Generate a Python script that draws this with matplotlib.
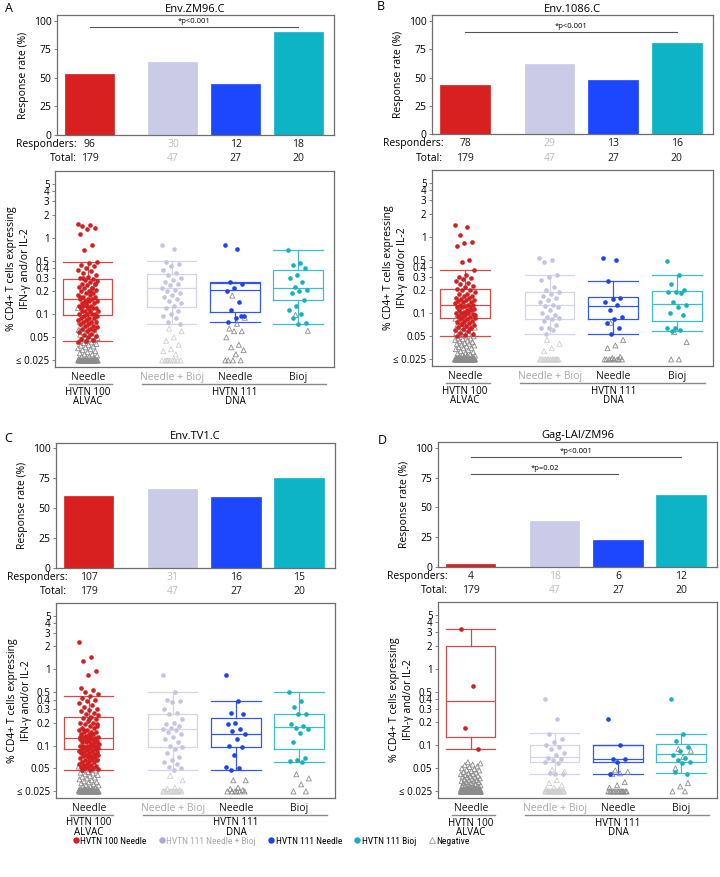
import numpy as np
import matplotlib
matplotlib.use("Agg")
import matplotlib.pyplot as plt
from matplotlib import font_manager
from matplotlib.lines import Line2D
from matplotlib.ticker import NullLocator

plt.rcParams['font.family'] = ['Open Sans', 'DejaVu Sans']

# ---------------- data ----------------
group_names = ['HVTN 100 Needle', 'HVTN 111 Needle + Bioj', 'HVTN 111 Needle', 'HVTN 111 Bioj']
x_labels = ['Needle', 'Needle + Bioj', 'Needle', 'Bioj']
panel_titles = ['Env.ZM96.C', 'Env.1086.C', 'Env.TV1.C', 'Gag-LAI/ZM96']
panel_letters = ['A', 'B', 'C', 'D']

zm96_responders = [96, 30, 12, 18]
zm96_totals = [179, 47, 27, 20]
e1086_responders = [78, 29, 13, 16]
e1086_totals = [179, 47, 27, 20]
tv1_responders = [107, 31, 16, 15]
tv1_totals = [179, 47, 27, 20]
gag_responders = [4, 18, 6, 12]
gag_totals = [179, 47, 27, 20]

# significance brackets: (group from, group to, height %, label)
zm96_sig = [(0, 3, 94.7, '*p<0.001')]
e1086_sig = [(0, 3, 90.3, '*p<0.001')]
tv1_sig = []
gag_sig = [(0, 3, 92, '*p<0.001'), (0, 2, 78, '*p=0.02')]

# box statistics: (q1, median, q3, whisker low, whisker high)
zm96_box = [(0.097, 0.16, 0.285, 0.045, 0.48), (0.125, 0.22, 0.34, 0.075, 0.49),
            (0.108, 0.21, 0.255, 0.08, 0.26), (0.155, 0.22, 0.38, 0.075, 0.68)]
e1086_box = [(0.088, 0.13, 0.21, 0.051, 0.37), (0.084, 0.128, 0.19, 0.053, 0.32),
             (0.083, 0.125, 0.165, 0.053, 0.26), (0.08, 0.133, 0.195, 0.058, 0.32)]
tv1_box = [(0.09, 0.125, 0.24, 0.048, 0.45), (0.095, 0.165, 0.26, 0.048, 0.51),
           (0.095, 0.14, 0.23, 0.048, 0.38), (0.09, 0.175, 0.26, 0.061, 0.51)]
gag_box = [(0.13, 0.38, 1.95, 0.09, 3.3), (0.06, 0.07, 0.1, 0.042, 0.145),
           (0.06, 0.066, 0.1, 0.042, 0.1), (0.06, 0.077, 0.105, 0.043, 0.14)]

# responder values (% CD4+ T cells)
zm96_pos_100 = [1.5, 1.45, 1.4, 1.35, 1.3, 1.1, 0.8, 0.68,
                0.48, 0.46, 0.44, 0.42, 0.40, 0.38, 0.37, 0.35, 0.33, 0.31, 0.30, 0.29,
                0.28, 0.27, 0.26, 0.25, 0.25, 0.24, 0.23, 0.22, 0.22, 0.21,
                0.20, 0.20, 0.19, 0.19, 0.18, 0.18, 0.17, 0.17, 0.16, 0.16,
                0.16, 0.15, 0.15, 0.15, 0.14, 0.14, 0.14, 0.13, 0.13, 0.13,
                0.12, 0.12, 0.12, 0.12, 0.11, 0.11, 0.11, 0.11, 0.10, 0.10,
                0.10, 0.10, 0.095, 0.095, 0.09, 0.09, 0.09, 0.085, 0.085, 0.08,
                0.08, 0.08, 0.075, 0.075, 0.07, 0.07, 0.068, 0.065, 0.065, 0.062,
                0.06, 0.058, 0.056, 0.054, 0.052, 0.05, 0.048, 0.046, 0.045, 0.044,
                0.2, 0.3, 0.25, 0.13, 0.17, 0.22]
zm96_pos_111nb = [0.8, 0.7, 0.48, 0.45, 0.42, 0.38, 0.35, 0.33, 0.3, 0.28, 0.26, 0.25, 0.24, 0.22,
                  0.21, 0.2, 0.19, 0.18, 0.17, 0.16, 0.15, 0.14, 0.13, 0.12, 0.11, 0.1, 0.095,
                  0.09, 0.08, 0.075]
zm96_pos_111n = [0.8, 0.7, 0.26, 0.25, 0.22, 0.2, 0.145, 0.115, 0.095, 0.09, 0.08, 0.095]
zm96_pos_111b = [0.68, 0.46, 0.44, 0.4, 0.33, 0.3, 0.26, 0.23, 0.21, 0.2, 0.19, 0.155, 0.13,
                 0.115, 0.1, 0.09, 0.078, 0.075]

e1086_pos_100 = [1.4, 1.35, 1.05, 0.85, 0.82, 0.75, 0.5, 0.47,
                 0.37, 0.32, 0.3, 0.29, 0.28, 0.26, 0.25, 0.24, 0.23, 0.22,
                 0.21, 0.2, 0.2, 0.19, 0.18, 0.18, 0.17, 0.17, 0.16, 0.16,
                 0.155, 0.15, 0.15, 0.145, 0.14, 0.14, 0.135, 0.13, 0.13, 0.13,
                 0.125, 0.12, 0.12, 0.12, 0.115, 0.11, 0.11, 0.11, 0.105, 0.1,
                 0.1, 0.1, 0.098, 0.095, 0.092, 0.09, 0.09, 0.088, 0.085, 0.083,
                 0.08, 0.08, 0.078, 0.075, 0.073, 0.07, 0.068, 0.066, 0.064, 0.062,
                 0.06, 0.058, 0.056, 0.054, 0.052, 0.051, 0.065, 0.072, 0.095, 0.105]
e1086_pos_111nb = [0.52, 0.5, 0.47, 0.32, 0.3, 0.27, 0.22, 0.2, 0.19, 0.18, 0.17, 0.16, 0.15,
                   0.14, 0.13, 0.125, 0.12, 0.11, 0.1, 0.095, 0.09, 0.088, 0.085, 0.08, 0.07,
                   0.065, 0.065, 0.06, 0.053]
e1086_pos_111n = [0.52, 0.5, 0.26, 0.16, 0.155, 0.14, 0.13, 0.11, 0.09, 0.085, 0.075, 0.065, 0.053]
e1086_pos_111b = [0.48, 0.32, 0.24, 0.2, 0.19, 0.19, 0.185, 0.14, 0.13, 0.12, 0.1, 0.095, 0.065,
                  0.065, 0.06, 0.058]

tv1_pos_100 = [2.3, 1.45, 1.3, 0.95, 0.85, 0.56, 0.54, 0.5, 0.47, 0.45,
               0.42, 0.4, 0.38, 0.36, 0.34, 0.32, 0.3, 0.29, 0.28, 0.27,
               0.26, 0.25, 0.24, 0.23, 0.22, 0.21, 0.2, 0.2, 0.19, 0.18,
               0.18, 0.17, 0.17, 0.16, 0.16, 0.15, 0.15, 0.15, 0.14, 0.14,
               0.14, 0.135, 0.13, 0.13, 0.13, 0.125, 0.125, 0.12, 0.12, 0.12,
               0.115, 0.115, 0.11, 0.11, 0.11, 0.105, 0.105, 0.1, 0.1, 0.1,
               0.1, 0.098, 0.096, 0.094, 0.092, 0.09, 0.09, 0.088, 0.086, 0.085,
               0.083, 0.082, 0.08, 0.08, 0.078, 0.076, 0.075, 0.073, 0.072, 0.07,
               0.07, 0.068, 0.066, 0.065, 0.064, 0.062, 0.061, 0.06, 0.058, 0.057,
               0.056, 0.055, 0.054, 0.053, 0.052, 0.051, 0.05, 0.049, 0.048, 0.048,
               0.11, 0.12, 0.13, 0.14, 0.16, 0.19, 0.22]
tv1_pos_111nb = [0.85, 0.5, 0.4, 0.38, 0.37, 0.3, 0.27, 0.26, 0.22, 0.2, 0.19, 0.18, 0.17, 0.165,
                 0.16, 0.15, 0.14, 0.13, 0.12, 0.11, 0.1, 0.095, 0.09, 0.08, 0.07, 0.065, 0.06,
                 0.057, 0.053, 0.05, 0.048]
tv1_pos_111n = [0.85, 0.38, 0.27, 0.26, 0.2, 0.19, 0.165, 0.155, 0.14, 0.12, 0.1, 0.095, 0.075,
                0.052, 0.05, 0.048]
tv1_pos_111b = [0.5, 0.38, 0.32, 0.26, 0.26, 0.19, 0.18, 0.17, 0.165, 0.145, 0.11, 0.068, 0.065,
                0.062, 0.06]

gag_pos_100 = [3.3, 0.6, 0.17, 0.09]
gag_pos_111nb = [0.4, 0.22, 0.14, 0.12, 0.11, 0.1, 0.095, 0.09, 0.08, 0.075, 0.068, 0.066, 0.065,
                 0.06, 0.058, 0.043, 0.042, 0.042]
gag_pos_111n = [0.22, 0.1, 0.066, 0.066, 0.06, 0.042]
gag_pos_111b = [0.4, 0.14, 0.115, 0.095, 0.085, 0.075, 0.068, 0.065, 0.06, 0.058, 0.045, 0.042]

# negative (non-responder) values, many sit at the 0.025 floor
zm96_neg_100 = [0.025] * 35 + [0.12, 0.11, 0.1, 0.09, 0.085, 0.08, 0.078, 0.075, 0.072, 0.07,
                               0.068, 0.066, 0.064, 0.062, 0.06, 0.058, 0.056, 0.055, 0.054, 0.052,
                               0.05, 0.049, 0.048, 0.047, 0.046, 0.045, 0.044, 0.043, 0.042, 0.041,
                               0.04, 0.039, 0.038, 0.037, 0.036, 0.035, 0.034, 0.033, 0.032, 0.031,
                               0.03, 0.03, 0.029, 0.028, 0.028, 0.027, 0.027, 0.026]
zm96_neg_111nb = [0.065, 0.06, 0.05, 0.045, 0.04, 0.035, 0.033, 0.03] + [0.025] * 9
zm96_neg_111n = [0.175, 0.09, 0.075, 0.065, 0.06, 0.06, 0.05, 0.04, 0.037, 0.034, 0.03,
                 0.025, 0.025, 0.025, 0.025]
zm96_neg_111b = [0.098, 0.061]

e1086_neg_100 = [0.025] * 45 + [0.1, 0.095, 0.09, 0.085, 0.08, 0.078, 0.075, 0.072, 0.07, 0.068,
                                0.066, 0.065, 0.062, 0.06, 0.058, 0.057, 0.055, 0.054, 0.052, 0.05,
                                0.05, 0.048, 0.047, 0.046, 0.045, 0.044, 0.043, 0.042, 0.041, 0.04,
                                0.04, 0.039, 0.038, 0.037, 0.036, 0.035, 0.035, 0.034, 0.033, 0.032,
                                0.031, 0.03, 0.03, 0.029, 0.029, 0.028, 0.028, 0.027, 0.027, 0.027,
                                0.026, 0.026, 0.026, 0.026, 0.026, 0.026]
e1086_neg_111nb = [0.045, 0.04, 0.035, 0.032] + [0.025] * 14
e1086_neg_111n = [0.075, 0.045, 0.038, 0.035, 0.027, 0.026] + [0.025] * 8
e1086_neg_111b = [0.057, 0.042, 0.025, 0.025]

tv1_neg_100 = [0.025] * 30 + [0.07, 0.065, 0.06, 0.057, 0.055, 0.053, 0.05, 0.048, 0.047, 0.045,
                              0.044, 0.043, 0.042, 0.041, 0.04, 0.039, 0.038, 0.037, 0.036, 0.035,
                              0.034, 0.033, 0.033, 0.032, 0.031, 0.03, 0.03, 0.029, 0.029, 0.028,
                              0.028, 0.027, 0.027, 0.027, 0.026, 0.026, 0.026, 0.026, 0.026, 0.026,
                              0.026, 0.026]
tv1_neg_111nb = [0.04, 0.035, 0.028, 0.027, 0.026] + [0.025] * 11
tv1_neg_111n = [0.035, 0.035, 0.028, 0.027, 0.026] + [0.025] * 6
tv1_neg_111b = [0.042, 0.037, 0.031, 0.025, 0.025]

gag_neg_100 = [0.025] * 110 + [0.06, 0.058, 0.056, 0.055, 0.053, 0.052, 0.05, 0.049, 0.048, 0.047,
                               0.046, 0.045, 0.044, 0.043, 0.042, 0.042, 0.041, 0.04, 0.04, 0.039,
                               0.038, 0.038, 0.037, 0.036, 0.036, 0.035, 0.035, 0.034, 0.034, 0.033,
                               0.033, 0.032, 0.032, 0.031, 0.031, 0.03, 0.03, 0.03, 0.029, 0.029,
                               0.029, 0.028, 0.028, 0.028, 0.028, 0.027, 0.027, 0.027, 0.027, 0.027,
                               0.026, 0.026, 0.026, 0.026, 0.026, 0.026, 0.026, 0.026, 0.026, 0.026,
                               0.026, 0.026, 0.026, 0.026, 0.026]
gag_neg_111nb = [0.048, 0.045, 0.035, 0.032, 0.03, 0.028, 0.027, 0.026] + [0.025] * 21
gag_neg_111n = [0.047, 0.045, 0.043, 0.042, 0.033, 0.03, 0.028] + [0.025] * 14
gag_neg_111b = [0.09, 0.085, 0.07, 0.05, 0.032, 0.029, 0.025, 0.025]

ytick_vals = [0.025, 0.05, 0.1, 0.2, 0.3, 0.4, 0.5, 1, 2, 3, 4, 5]
ytick_labels = ['\u2264 0.025', '0.05', '0.1', '0.2', '0.3', '0.4', '0.5', '1', '2', '3', '4', '5']

# ---------------- style ----------------
bar_colors = ['#d7201f', '#cbcbe7', '#1c47ff', '#0cb4c6']
pt_colors = ['#d21f1f', '#c6c4e3', '#1b44f0', '#13b1c2']
box_colors = ['#d44b48', '#d4d4ec', '#3558e8', '#3dbfcc']
neg_colors = ['#8c8c8c', '#cfcfcf', '#8c8c8c', '#8c8c8c']
text_colors = ['#1a1a1a', '#bdbdbd', '#1a1a1a', '#1a1a1a']
xlab_colors = ['#1a1a1a', '#a8a8a8', '#1a1a1a', '#1a1a1a']
spine_col = '#6e6e6e'
xpos = np.array([0, 1.33, 2.33, 3.33])
bw = 0.78

W, H = 720, 877
fig = plt.figure(figsize=(7.2, 8.77), dpi=100)


def rect(l, r, t, b):
    return [l / W, 1 - b / H, (r - l) / W, (b - t) / H]


def jitter(n, width=0.16, shift=0.0):
    k = np.arange(n)
    return ((k * 0.6180339887 + shift) % 1.0 - 0.5) * 2 * width


def style_axes(ax, labelsize=7.5):
    for s in ax.spines.values():
        s.set_color(spine_col)
        s.set_linewidth(0.9)
    ax.tick_params(axis='y', length=2.5, width=0.6, color=spine_col, labelsize=labelsize, pad=1.5)
    ax.tick_params(axis='x', length=0)
    ax.set_xticks([])
    ax.set_xlim(-0.52, 3.9)


top_rects = [(57, 334, 15, 135), (432, 713, 15, 134.5), (56, 335, 442.5, 567.7), (438, 717, 441.7, 567)]
box_rects = [(55, 334, 171, 367), (432, 713, 170, 366), (56, 335, 603, 798), (438, 717, 602, 798)]
letter_xy = [(5, 8), (377, 7), (4, 439), (378, 440)]
resp_label_x = [0.072, 0.04, 0.04, 0.036]

panels = [
    (zm96_responders, zm96_totals, zm96_sig, zm96_box,
     [zm96_pos_100, zm96_pos_111nb, zm96_pos_111n, zm96_pos_111b],
     [zm96_neg_100, zm96_neg_111nb, zm96_neg_111n, zm96_neg_111b]),
    (e1086_responders, e1086_totals, e1086_sig, e1086_box,
     [e1086_pos_100, e1086_pos_111nb, e1086_pos_111n, e1086_pos_111b],
     [e1086_neg_100, e1086_neg_111nb, e1086_neg_111n, e1086_neg_111b]),
    (tv1_responders, tv1_totals, tv1_sig, tv1_box,
     [tv1_pos_100, tv1_pos_111nb, tv1_pos_111n, tv1_pos_111b],
     [tv1_neg_100, tv1_neg_111nb, tv1_neg_111n, tv1_neg_111b]),
    (gag_responders, gag_totals, gag_sig, gag_box,
     [gag_pos_100, gag_pos_111nb, gag_pos_111n, gag_pos_111b],
     [gag_neg_100, gag_neg_111nb, gag_neg_111n, gag_neg_111b]),
]

for p, (resp, tot, sigs, boxes, pos, neg) in enumerate(panels):
    # response rate bars
    ax1 = fig.add_axes(rect(*top_rects[p]))
    style_axes(ax1)
    rate = 100 * np.array(resp) / np.array(tot)
    ax1.bar(xpos, rate, width=bw, color=bar_colors, edgecolor=bar_colors, linewidth=0.5)
    ax1.set_ylim(0, 105)
    ax1.set_yticks([0, 25, 50, 75, 100])
    ax1.set_ylabel('Response rate (%)', fontsize=7.5)
    ax1.yaxis.set_label_coords(-0.10, 0.5)
    ax1.set_title(panel_titles[p], fontsize=8, pad=2.5)
    for g0, g1, yv, lab in sigs:
        ax1.plot([xpos[g0], xpos[g1]], [yv, yv], color='#555555', lw=0.8)
        ax1.text((xpos[g0] + xpos[g1]) / 2, yv + 1.8, lab, ha='center', va='bottom', fontsize=5.5)
    ax1.annotate('Responders:', xy=(resp_label_x[p], 0), xycoords='axes fraction',
                 xytext=(0, -6.8), textcoords='offset points', ha='right', va='center', fontsize=7.5)
    ax1.annotate('Total:', xy=(resp_label_x[p], 0), xycoords='axes fraction',
                 xytext=(0, -17.2), textcoords='offset points', ha='right', va='center', fontsize=7.5)
    for i in range(4):
        ax1.annotate(str(resp[i]), xy=(xpos[i], 0), xycoords=('data', 'axes fraction'),
                     xytext=(0, -6.8), textcoords='offset points', ha='center', va='center',
                     fontsize=7.5, color=text_colors[i])
        ax1.annotate(str(tot[i]), xy=(xpos[i], 0), xycoords=('data', 'axes fraction'),
                     xytext=(0, -17.2), textcoords='offset points', ha='center', va='center',
                     fontsize=7.5, color=text_colors[i])

    # magnitude box plots
    ax2 = fig.add_axes(rect(*box_rects[p]))
    style_axes(ax2, labelsize=7)
    ax2.set_yscale('log')
    ax2.set_ylabel('% CD4+ T cells expressing\nIFN-\u03b3 and/or IL-2', fontsize=7.5, linespacing=1.45)
    ax2.yaxis.set_label_coords(-0.085, 0.5)
    for i in range(4):
        q1, med, q3, lo, hi = boxes[i]
        c = box_colors[i]
        ax2.bxp([dict(q1=q1, med=med, q3=q3, whislo=lo, whishi=hi, fliers=[])],
                positions=[xpos[i]], widths=bw, capwidths=bw, showfliers=False,
                manage_ticks=False,
                boxprops=dict(color=c, lw=0.9), medianprops=dict(color=c, lw=0.9),
                whiskerprops=dict(color=c, lw=0.9), capprops=dict(color=c, lw=0.9))
        nv = np.array(neg[i])
        ax2.scatter(xpos[i] + jitter(len(nv), shift=0.37), nv, marker='^', s=13,
                    facecolors='none', edgecolors=neg_colors[i], linewidths=0.6, zorder=3)
        pv = np.array(pos[i])
        ax2.scatter(xpos[i] + jitter(len(pv)), pv, marker='o', s=11, color=pt_colors[i],
                    linewidths=0, zorder=4)
        ax2.text(xpos[i], -0.053, x_labels[i], transform=ax2.get_xaxis_transform(),
                 ha='center', va='center', fontsize=7.5, color=xlab_colors[i])
    ax2.set_xticks([])
    ax2.set_xlim(-0.52, 3.9)
    ax2.set_ylim(0.0205, 7.4)
    ax2.set_yticks(ytick_vals)
    ax2.set_yticklabels(ytick_labels)
    ax2.yaxis.set_minor_locator(NullLocator())
    trans = ax2.get_xaxis_transform()
    ax2.plot([-0.3, 0.39], [-0.085, -0.085], transform=trans, color='#8a8a8a', lw=1.0, clip_on=False)
    ax2.plot([0.86, 3.77], [-0.085, -0.085], transform=trans, color='#8a8a8a', lw=1.0, clip_on=False)
    ax2.text(xpos[0], -0.128, 'HVTN 100', transform=trans, ha='center', va='center', fontsize=7)
    ax2.text(xpos[0], -0.178, 'ALVAC', transform=trans, ha='center', va='center', fontsize=7)
    ax2.text(xpos[2], -0.128, 'HVTN 111', transform=trans, ha='center', va='center', fontsize=7)
    ax2.text(xpos[2], -0.178, 'DNA', transform=trans, ha='center', va='center', fontsize=7)

    lx, ly = letter_xy[p]
    fig.text(lx / W, 1 - ly / H, panel_letters[p], fontsize=9, va='center', ha='left')

# legend
handles = [Line2D([], [], marker='o', ls='', color=c, markersize=3.6) for c in
           ['#d21f1f', '#b3a6dd', '#1b44f0', '#13b1c2']]
handles.append(Line2D([], [], marker='^', ls='', markerfacecolor='none',
                      markeredgecolor='#a0a0a0', markersize=5, markeredgewidth=0.6))
names = {f.name for f in font_manager.fontManager.ttflist}
narrow = next((n for n in ['Liberation Sans Narrow', 'Roboto Condensed', 'Open Sans Condensed']
               if n in names), 'Roboto')
leg = fig.legend(handles, group_names + ['Negative'], loc='center', ncol=5,
                 bbox_to_anchor=(271 / W, 1 - 841 / H), frameon=False,
                 handlelength=0.7, handletextpad=0.15, columnspacing=1.25,
                 prop=dict(family=[narrow, 'DejaVu Sans'], size=6.8))
leg.get_texts()[1].set_color('#a9a9a9')

fig.savefig('out.png', dpi=100)
